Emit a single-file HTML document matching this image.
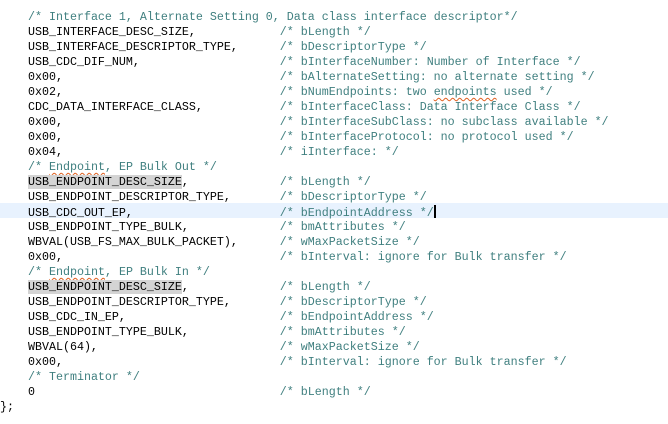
<!DOCTYPE html>
<html><head><meta charset="utf-8"><style>
html,body{margin:0;padding:0;background:#fff;width:668px;height:424px;overflow:hidden;position:relative}
.l{position:absolute;left:0;height:15px;line-height:15px;padding-top:2px;box-sizing:border-box;font-family:"Liberation Mono",monospace;font-size:11.67px;white-space:pre;color:#000;width:668px}
.c{color:#3f7f7f}
.hl{background:#e8f2fe}
.g{background:#d4d4d4}
.sq{text-decoration:underline wavy #e06020;text-decoration-thickness:1px;text-underline-offset:2px}
.cur{display:inline-block;width:2px;height:13px;background:#000;vertical-align:-2px}
</style></head><body>
<div class="l" style="top:8px">    <span class="c">/* Interface 1, Alternate Setting 0, Data class interface descriptor*/</span></div>
<div class="l" style="top:23px">    USB_INTERFACE_DESC_SIZE,            <span class="c">/* bLength */</span></div>
<div class="l" style="top:38px">    USB_INTERFACE_DESCRIPTOR_TYPE,      <span class="c">/* bDescriptorType */</span></div>
<div class="l" style="top:53px">    USB_CDC_DIF_NUM,                    <span class="c">/* bInterfaceNumber: Number of Interface */</span></div>
<div class="l" style="top:68px">    0x00,                               <span class="c">/* bAlternateSetting: no alternate setting */</span></div>
<div class="l" style="top:83px">    0x02,                               <span class="c">/* bNumEndpoints: two <span class="sq">endpoints</span> used */</span></div>
<div class="l" style="top:98px">    CDC_DATA_INTERFACE_CLASS,           <span class="c">/* bInterfaceClass: Data Interface Class */</span></div>
<div class="l" style="top:113px">    0x00,                               <span class="c">/* bInterfaceSubClass: no subclass available */</span></div>
<div class="l" style="top:128px">    0x00,                               <span class="c">/* bInterfaceProtocol: no protocol used */</span></div>
<div class="l" style="top:143px">    0x04,                               <span class="c">/* iInterface: */</span></div>
<div class="l" style="top:158px">    <span class="c">/* <span class="sq">Endpoint</span>, EP Bulk Out */</span></div>
<div class="l" style="top:173px">    <span class="g">USB_ENDPOINT_DESC_SIZE</span>,             <span class="c">/* bLength */</span></div>
<div class="l" style="top:188px">    USB_ENDPOINT_DESCRIPTOR_TYPE,       <span class="c">/* bDescriptorType */</span></div>
<div class="l hl" style="top:203px">    USB_CDC_OUT_EP,                     <span class="c">/* bEndpointAddress */</span><span class="cur"></span></div>
<div class="l" style="top:218px">    USB_ENDPOINT_TYPE_BULK,             <span class="c">/* bmAttributes */</span></div>
<div class="l" style="top:233px">    WBVAL(USB_FS_MAX_BULK_PACKET),      <span class="c">/* wMaxPacketSize */</span></div>
<div class="l" style="top:248px">    0x00,                               <span class="c">/* bInterval: ignore for Bulk transfer */</span></div>
<div class="l" style="top:263px">    <span class="c">/* <span class="sq">Endpoint</span>, EP Bulk In */</span></div>
<div class="l" style="top:278px">    <span class="g">USB_ENDPOINT_DESC_SIZE</span>,             <span class="c">/* bLength */</span></div>
<div class="l" style="top:293px">    USB_ENDPOINT_DESCRIPTOR_TYPE,       <span class="c">/* bDescriptorType */</span></div>
<div class="l" style="top:308px">    USB_CDC_IN_EP,                      <span class="c">/* bEndpointAddress */</span></div>
<div class="l" style="top:323px">    USB_ENDPOINT_TYPE_BULK,             <span class="c">/* bmAttributes */</span></div>
<div class="l" style="top:338px">    WBVAL(64),                          <span class="c">/* wMaxPacketSize */</span></div>
<div class="l" style="top:353px">    0x00,                               <span class="c">/* bInterval: ignore for Bulk transfer */</span></div>
<div class="l" style="top:368px">    <span class="c">/* Terminator */</span></div>
<div class="l" style="top:383px">    0                                   <span class="c">/* bLength */</span></div>
<div class="l" style="top:398px">};</div>
</body></html>
